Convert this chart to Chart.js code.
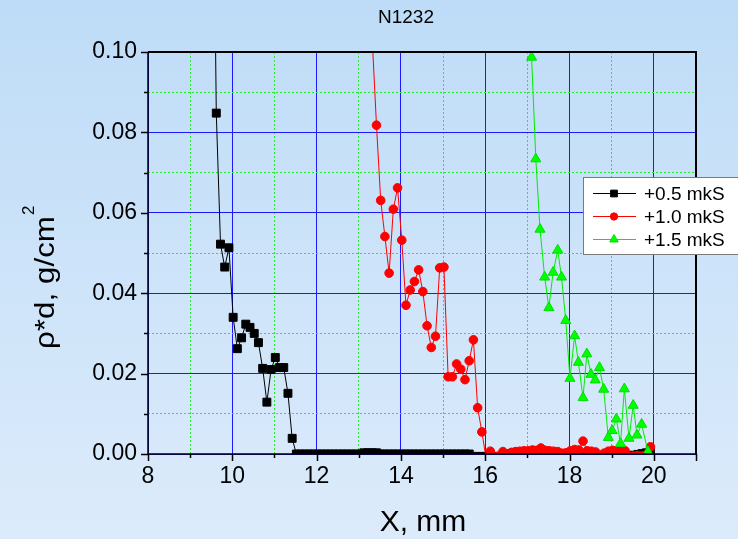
<!DOCTYPE html>
<html>
<head>
<meta charset="utf-8">
<script src="https://cdn.jsdelivr.net/npm/chart.js@4/dist/chart.umd.min.js"></script>
<style>
  html, body { margin: 0; padding: 0; background: #cfe4f8; }
  #wrap { width: 738px; height: 539px; }
</style>
</head>
<body>
<div id="wrap"><canvas id="chart-density" width="738" height="539"></canvas></div>
<script>
// values
const TITLE = 'N1232';
const X_TICKS = [8, 10, 12, 14, 16, 18, 20];
const Y_TICKS = [0.00, 0.02, 0.04, 0.06, 0.08, 0.10];
const SERIES_NAMES = ['+0.5 mkS', '+1.0 mkS', '+1.5 mkS'];

const blackX = [
    9.53, 9.62, 9.72, 9.82, 9.92, 10.02, 10.12, 10.22, 10.32, 10.42,
    10.52, 10.62, 10.72, 10.82, 10.92, 11.02, 11.12, 11.22, 11.32, 11.42,
    11.52, 11.62, 11.72, 11.82, 11.92, 12.02, 12.12, 12.22, 12.32, 12.42,
    12.52, 12.62, 12.72, 12.82, 12.92, 13.02, 13.12, 13.22, 13.32, 13.42,
    13.52, 13.62, 13.72, 13.82, 13.92, 14.02, 14.12, 14.22, 14.32, 14.42,
    14.52, 14.62, 14.72, 14.82, 14.92, 15.02, 15.12, 15.22, 15.32, 15.42,
    15.52, 15.62, 15.72, 15.82, 15.92, 16.02, 16.12, 16.22, 16.32, 16.42,
    16.52, 16.62, 16.72, 16.82, 16.92, 17.02, 17.12, 17.22, 17.32, 17.42,
    17.52, 17.62, 17.72, 17.82, 17.92, 18.02, 18.12, 18.22, 18.32, 18.42,
    18.52, 18.62, 18.72, 18.82, 18.92, 19.02, 19.12, 19.22, 19.32, 19.42,
    19.52, 19.62, 19.72, 19.82, 19.92
];
const blackY = [
    0.17, 0.0848, 0.0522, 0.0465, 0.0513, 0.034, 0.0262, 0.0289, 0.0323, 0.0315,
    0.030, 0.0277, 0.0213, 0.0129, 0.021, 0.024, 0.0215, 0.0215, 0.0151, 0.0039,
    0, 0, 0, 0, 0, 0, 0, 0, 0, 0,
    0, 0, 0, 0, 0, 0, 0.0003, 0.0003, 0.0003, 0.0003,
    0, 0, 0, 0, 0, 0, 0, 0, 0, 0,
    0, 0, 0, 0, 0, 0, 0, 0, 0, 0,
    0, 0, -0.0006, -0.0006, -0.0006, -0.0006, -0.0006, -0.0006, -0.0006, -0.0006,
    0, 0, 0, -0.0006, -0.0006, -0.0006, -0.0006, -0.0006, -0.0006, -0.0006,
    -0.0006, -0.0006, -0.0006, -0.0006, -0.0006, -0.0006, -0.0006, -0.0006, -0.0006, -0.0006,
    -0.0006, -0.0006, -0.0006, -0.0006, -0.0006, -0.0006, -0.0006, -0.0006, -0.0006, -0.0005,
    -0.0003, -0.0001, 0.0001, 0.0003, 0.0005
];

const redX = [
    13.32, 13.42, 13.52, 13.62, 13.72, 13.82, 13.92, 14.02, 14.12, 14.22,
    14.32, 14.42, 14.52, 14.62, 14.72, 14.82, 14.92, 15.02, 15.12, 15.22,
    15.32, 15.42, 15.52, 15.62, 15.72, 15.82, 15.92, 16.02, 16.12, 16.22,
    16.32, 16.42, 16.52, 16.62, 16.72, 16.82, 16.92, 17.02, 17.12, 17.22,
    17.32, 17.42, 17.52, 17.62, 17.72, 17.82, 17.92, 18.02, 18.12, 18.22,
    18.32, 18.42, 18.52, 18.62, 18.72, 18.82, 18.92, 19.02, 19.12, 19.22,
    19.32, 19.42, 19.52, 19.62, 19.72, 19.82, 19.92
];
const redY = [
    0.103, 0.0818, 0.0631, 0.0541, 0.045, 0.0609, 0.0662, 0.0532, 0.037, 0.0408,
    0.0429, 0.0458, 0.0404, 0.0319, 0.0265, 0.0293, 0.0463, 0.0465, 0.0192, 0.0192,
    0.0224, 0.0211, 0.0185, 0.0232, 0.0284, 0.0115, 0.0055, -0.001, 0.0007, -0.0008,
    -0.0005, 0.0006, -0.0004, 0.0004, 0.0006, 0.0007, 0.0008, 0.0008, 0.001, 0.0009,
    0.0015, 0.0009, 0.0008, 0.0007, 0.0006, 0.0002, 0.0003, 0.0008, 0.0011, 0.001,
    0.0032, 0.0008, 0.0007, 0.0005, -0.0004, 0.0002, 0.0007, 0.0009, 0.0008, 0.0007,
    0.0008, -0.0006, -0.0005, -0.0004, -0.0005, -0.0003, 0.0018
];

const greenX = [
    17.1, 17.2, 17.3, 17.41, 17.51, 17.61, 17.72, 17.81, 17.91, 18.01,
    18.12, 18.21, 18.32, 18.41, 18.51, 18.61, 18.71, 18.81, 18.92, 19.01,
    19.11, 19.21, 19.3, 19.41, 19.51, 19.6, 19.71, 19.86
];
const greenY = [
    0.0987, 0.0734, 0.0559, 0.044, 0.0364, 0.0452, 0.0507, 0.044, 0.0332, 0.0188,
    0.0294, 0.0228, 0.014, 0.0249, 0.0198, 0.0184, 0.0215, 0.0161, 0.0041, 0.0058,
    0.0087, 0.0026, 0.0162, 0.0039, 0.0121, 0.0047, 0.0074, 0.0006
];

const FONT = "'Liberation Sans', Arial, sans-serif";

function toPoints(xs, ys) {
    return xs.map(function(x, i) { return { x: x, y: ys[i] }; });
}

function isMajorX(v) { return Math.round(v) % 2 === 0 || Math.round(v) === 21; }
function isMajorY(v) { return Math.round(v * 100) % 2 === 0; }

// background, frame, tick marks, texts and legend
const decor = {
    id: 'decor',
    beforeDraw: function(chart) {
        const ctx = chart.ctx;
        const g = ctx.createLinearGradient(0, 0, 0, chart.height);
        g.addColorStop(0, '#bedcf7');
        g.addColorStop(1, '#dcebfb');
        ctx.save();
        ctx.fillStyle = g;
        ctx.fillRect(0, 0, chart.width, chart.height);
        ctx.restore();
    },
    afterDraw: function(chart) {
        const ctx = chart.ctx;
        const a = chart.chartArea;
        const xs = chart.scales.x;
        const ys = chart.scales.y;
        ctx.save();

        // frame
        ctx.strokeStyle = '#000';
        ctx.lineWidth = 2;
        ctx.beginPath();
        ctx.moveTo(a.left, a.top);
        ctx.lineTo(a.right, a.top);
        ctx.lineTo(a.right, a.bottom);
        ctx.stroke();
        ctx.lineWidth = 1.5;
        ctx.beginPath();
        ctx.moveTo(a.left, a.top);
        ctx.lineTo(a.left, a.bottom);
        ctx.lineTo(a.right, a.bottom);
        ctx.stroke();

        // outward tick marks
        ctx.lineWidth = 1.5;
        ctx.beginPath();
        xs.ticks.forEach(function(t) {
            const px = Math.round(xs.getPixelForValue(t.value)) + 0.5;
            const len = isMajorX(t.value) ? 7 : 4;
            ctx.moveTo(px, a.bottom);
            ctx.lineTo(px, a.bottom + len);
        });
        ys.ticks.forEach(function(t) {
            const py = Math.round(ys.getPixelForValue(t.value)) + 0.5;
            const len = isMajorY(t.value) ? 7 : 4;
            ctx.moveTo(a.left, py);
            ctx.lineTo(a.left - len, py);
        });
        ctx.stroke();

        // title
        ctx.fillStyle = '#000';
        ctx.font = '19px ' + FONT;
        ctx.textAlign = 'center';
        ctx.textBaseline = 'alphabetic';
        ctx.fillText(TITLE, 406, 23);

        // x axis title
        ctx.font = '30px ' + FONT;
        ctx.fillText('X, mm', 423, 531);

        // y axis title, rotated, with superscript 2
        ctx.save();
        ctx.translate(54, 349);
        ctx.rotate(-Math.PI / 2);
        ctx.font = '27px ' + FONT;
        ctx.textAlign = 'left';
        const main = '\u03c1*d, g/cm';
        const w = ctx.measureText(main).width;
        const sx = 133 / w;
        ctx.save();
        ctx.scale(sx, 1);
        ctx.fillText(main, 0, 0);
        ctx.restore();
        ctx.font = '17px ' + FONT;
        ctx.fillText('2', 133 + 1, -20);
        ctx.restore();

        // legend
        const lx = 583.5, ly = 177.5, lw = 160, lh = 77;
        ctx.fillStyle = '#fff';
        ctx.fillRect(lx, ly, lw, lh);
        ctx.strokeStyle = '#7a7a7a';
        ctx.lineWidth = 1;
        ctx.strokeRect(lx, ly, lw, lh);
        const rows = [193.5, 216.5, 239.5];
        chart.data.datasets.forEach(function(ds, i) {
            const y = rows[i];
            ctx.strokeStyle = ds.borderColor;
            ctx.lineWidth = 1;
            ctx.beginPath();
            ctx.moveTo(593, y);
            ctx.lineTo(636, y);
            ctx.stroke();
            ctx.fillStyle = ds.pointBackgroundColor;
            ctx.strokeStyle = ds.pointBorderColor;
            Chart.helpers.drawPoint(ctx, {
                pointStyle: ds.pointStyle,
                radius: ds.pointRadius * 0.85,
                rotation: 0,
                borderWidth: 1
            }, 614, y);
            ctx.fillStyle = '#000';
            ctx.font = '19px ' + FONT;
            ctx.textAlign = 'left';
            ctx.textBaseline = 'middle';
            ctx.fillText(SERIES_NAMES[i], 644, y + 1);
        });

        ctx.restore();
    }
};

const domChart = document.getElementById('chart-density');
new Chart(domChart, {
    type: 'scatter',
    data: {
        datasets: [
            {
                label: SERIES_NAMES[0],
                data: toPoints(blackX, blackY),
                showLine: true,
                borderColor: '#000000',
                borderWidth: 1,
                pointStyle: 'rect',
                pointRadius: 5.6,
                pointBackgroundColor: '#000000',
                pointBorderColor: '#000000',
                pointBorderWidth: 1,
                clip: 0,
                order: 3
            },
            {
                label: SERIES_NAMES[1],
                data: toPoints(redX, redY),
                showLine: true,
                borderColor: '#ff0000',
                borderWidth: 1,
                pointStyle: 'circle',
                pointRadius: 4.3,
                pointBackgroundColor: '#ff0000',
                pointBorderColor: '#ff0000',
                pointBorderWidth: 1,
                clip: 0,
                order: 2
            },
            {
                label: SERIES_NAMES[2],
                data: toPoints(greenX, greenY),
                showLine: true,
                borderColor: '#00ee00',
                borderWidth: 1,
                pointStyle: 'triangle',
                pointRadius: 5.8,
                pointBackgroundColor: '#00ff00',
                pointBorderColor: '#00dd00',
                pointBorderWidth: 1,
                clip: 0,
                order: 1
            }
        ]
    },
    options: {
        responsive: false,
        animation: false,
        layout: { padding: { top: 52, right: 42, left: 0, bottom: 0 } },
        plugins: {
            legend: { display: false },
            tooltip: { enabled: false },
            title: { display: false }
        },
        scales: {
            x: {
                type: 'linear',
                min: 8,
                max: 21,
                afterFit: function(scale) { scale.height = 85; },
                ticks: {
                    stepSize: 1,
                    autoSkip: false,
                    maxRotation: 0,
                    padding: 9,
                    color: '#000',
                    font: { family: FONT, size: 23 },
                    callback: function(v) {
                        return X_TICKS.indexOf(Math.round(v)) >= 0 ? String(Math.round(v)) : '';
                    }
                },
                grid: {
                    drawTicks: false,
                    lineWidth: 1,
                    color: function(c) {
                        return isMajorX(c.tick.value) ? '#1a1aff' : '#22ee22';
                    }
                },
                border: {
                    display: false,
                    dash: function(c) {
                        return c.tick && !isMajorX(c.tick.value) ? [2, 2] : [];
                    }
                }
            },
            y: {
                type: 'linear',
                min: 0,
                max: 0.1,
                afterFit: function(scale) { scale.width = 148; },
                ticks: {
                    stepSize: 0.01,
                    autoSkip: false,
                    padding: 11,
                    color: '#000',
                    font: { family: FONT, size: 23 },
                    callback: function(v) {
                        return isMajorY(v) ? Number(v).toFixed(2) : '';
                    }
                },
                grid: {
                    drawTicks: false,
                    lineWidth: 1,
                    color: function(c) {
                        return isMajorY(c.tick.value) ? '#1a1aff' : '#22ee22';
                    }
                },
                border: {
                    display: false,
                    dash: function(c) {
                        return c.tick && !isMajorY(c.tick.value) ? [2, 2] : [];
                    }
                }
            }
        }
    },
    plugins: [decor]
});
</script>
</body>
</html>
